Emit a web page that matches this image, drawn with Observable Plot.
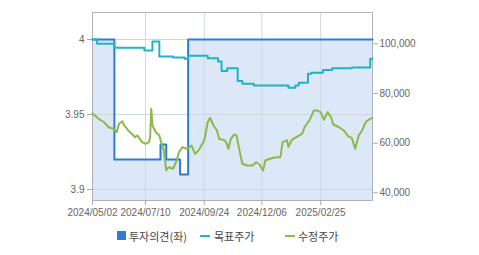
<!DOCTYPE html>
<html><head><meta charset="utf-8">
<script src="https://cdn.jsdelivr.net/npm/d3@7"></script>
<script src="https://cdn.jsdelivr.net/npm/@observablehq/plot@0.6"></script>
<style>
body{margin:0;background:#fff;font-family:"Liberation Sans",Arial,sans-serif;}
#wrap{position:relative;width:479px;height:255px;}
#legend{position:absolute;left:0;top:222px;width:479px;height:30px;font-family:"Noto Sans CJK KR","Noto Sans",sans-serif;font-size:11px;color:#444;}
.lg{position:absolute;white-space:nowrap;line-height:14px;top:7px;}
.sw{position:absolute;}
</style></head><body><div id="wrap"><div id="chart"></div><div id="legend"></div></div><script>
const xTickIdx=[0,46,97,147,198];
const xTickLabels=["2024/05/02","2024/07/10","2024/09/24","2024/12/06","2025/02/25"];
const opinionIdx=[0,19,59,64,76,83,243];
const opinionVal=[4,3.92,3.93,3.92,3.91,4,4];
const targetIdx=[0,4,19,45,52,58,70,80,83,100,109,112,117,126,130,140,170,176,179,187,190,200,208,225,241,243];
const targetVal=[101700,100000,98400,97300,100900,94900,94500,94000,95200,94200,92900,89000,90200,85000,83900,83200,82300,83200,84300,87900,88300,89500,90200,90500,94000,94000];
const priceIdx=[0,5,10,14,18,21,23,26,27,31,34,37,39,43,46,49,50,51,52,55,58,60,62,64,66,70,73,75,78,82,86,89,92,97,100,102,105,108,110,114,116,118,120,123,125,127,130,134,139,142,145,148,150,154,159,163,165,169,170,173,178,182,184,187,189,192,195,198,201,204,207,209,214,218,222,225,228,231,234,237,241,243];
const priceVal=[72000,69900,68400,66400,65800,64400,67800,68800,67500,65100,63800,62400,63100,60400,59700,60400,62400,73800,67100,64400,63100,59700,57000,49000,50300,49700,53000,56300,58400,57700,59000,55700,57000,61100,68400,70200,67100,65100,61700,61300,60400,57700,61700,63500,63100,58400,51700,51000,51000,52300,51400,49000,53000,53700,54300,54300,60400,61100,58400,61300,62700,63800,66400,68400,69800,73100,73100,72500,69400,72500,70400,67500,66400,65100,62700,62100,57700,63100,65100,68400,69800,70200];
const leftTicks=[3.9,3.95,4];
const rightTicks=[40000,60000,80000,100000];
const leftDomain=[3.89267,4.018];
const rightDomain=[36899,112604];
const seriesNames=["투자의견(좌)","목표주가","수정주가"];
const colors={opinion:"#2d7cd6",target:"#1fb3c6",price:"#8cba48",fill:"#dce7f7"};

const toLeft=d3.scaleLinear(rightDomain,leftDomain);
const xLabel=new Map(xTickIdx.map((d,i)=>[d,xTickLabels[i]]));

const chart=Plot.plot({
  width:479,height:222,
  marginLeft:92,marginRight:107,marginTop:12,marginBottom:22,
  style:{fontFamily:"Liberation Sans, Arial, sans-serif",fontSize:"10px",color:"#666",background:"transparent"},
  x:{domain:[0,243]},
  y:{domain:leftDomain},
  marks:[
    Plot.areaY(opinionIdx,{x:d=>d,y1:leftDomain[0],y2:(d,i)=>opinionVal[i],curve:"step-after",fill:colors.fill}),
    Plot.gridX(xTickIdx,{stroke:"#cfd7e1",strokeOpacity:1}),
    Plot.gridY(leftTicks,{stroke:"#cfd7e1",strokeOpacity:1}),
    Plot.frame({stroke:"#aeb3b8"}),
    Plot.axisX(xTickIdx,{tickSize:5,tickPadding:3,stroke:"#aaa",fill:"#666",tickFormat:d=>xLabel.get(d),label:null}),
    Plot.axisY(leftTicks,{anchor:"left",tickSize:5,tickPadding:3,stroke:"#aaa",fill:"#666",tickFormat:d=>String(d),label:null}),
    Plot.axisY(rightTicks.map(v=>toLeft(v)),{anchor:"right",tickSize:5,tickPadding:2,stroke:"#aaa",fill:"#666",tickFormat:d=>d3.format(",")(Math.round(toLeft.invert(d)/1000)*1000),label:null}),
    Plot.line(opinionIdx,{x:d=>d,y:(d,i)=>opinionVal[i],curve:"step-after",stroke:colors.opinion,strokeWidth:2}),
    Plot.line(targetIdx,{x:d=>d,y:(d,i)=>toLeft(targetVal[i]),curve:"step-after",stroke:colors.target,strokeWidth:2}),
    Plot.line(priceIdx,{x:d=>d,y:(d,i)=>toLeft(priceVal[i]),stroke:colors.price,strokeWidth:2})
  ]
});
document.getElementById("chart").appendChild(chart);

const lg=document.getElementById("legend");
lg.innerHTML=
 `<div class="sw" style="left:117px;top:9px;width:9px;height:9px;background:${colors.opinion}"></div>`+
 `<div class="lg" style="left:129px">${seriesNames[0]}</div>`+
 `<div class="sw" style="left:200px;top:13px;width:10px;height:2px;background:${colors.target}"></div>`+
 `<div class="lg" style="left:214px">${seriesNames[1]}</div>`+
 `<div class="sw" style="left:285px;top:13px;width:10px;height:2px;background:${colors.price}"></div>`+
 `<div class="lg" style="left:298px">${seriesNames[2]}</div>`;
</script></body></html>
